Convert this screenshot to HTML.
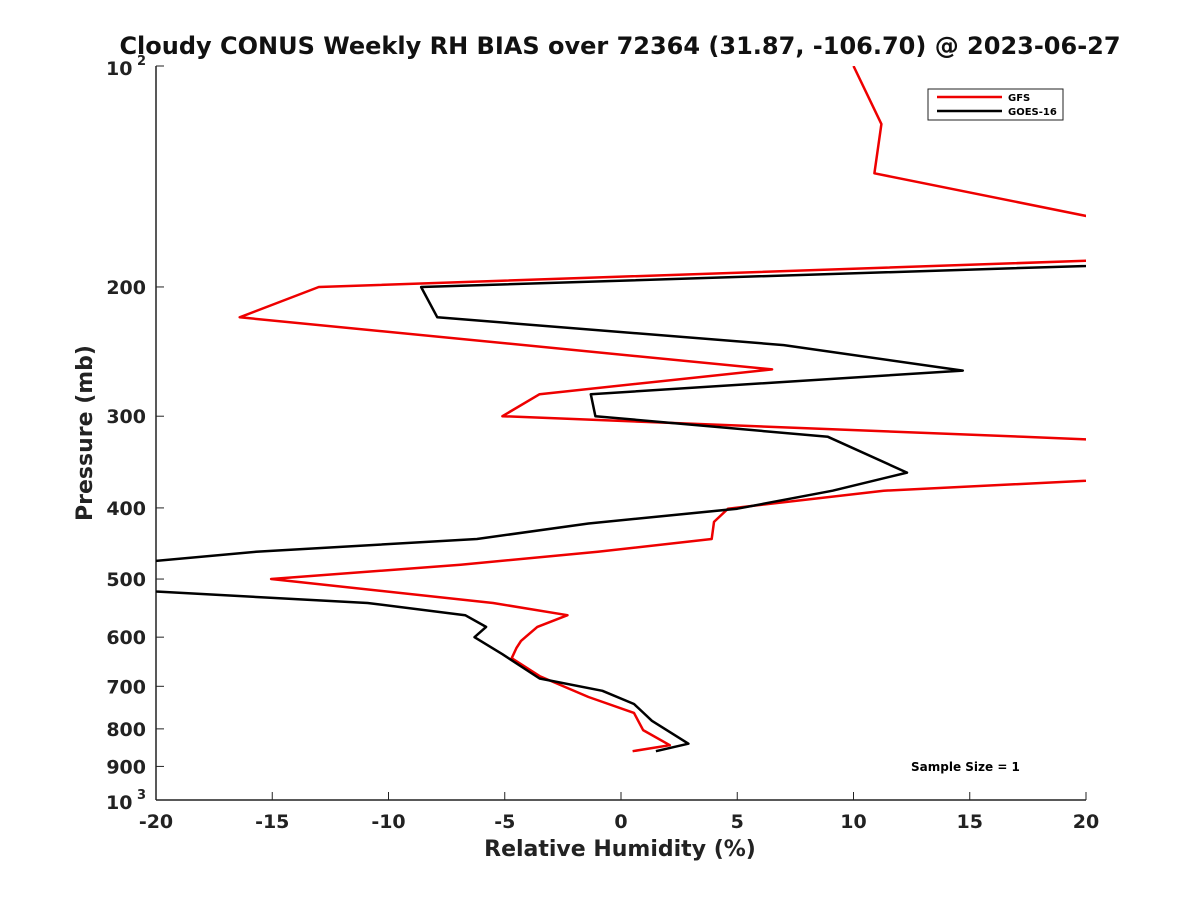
<!DOCTYPE html>
<html><head><meta charset="utf-8"><style>
body{margin:0;background:#fff;}
svg{font-family:"DejaVu Sans","Liberation Sans",sans-serif;}
</style></head><body>
<svg id="chart" width="1200" height="900" xmlns="http://www.w3.org/2000/svg">
<defs><clipPath id="clip"><rect x="156" y="66" width="930" height="734"/></clipPath></defs>
<text x="620" y="54" text-anchor="middle" font-size="24" font-weight="bold" fill="#111">Cloudy CONUS Weekly RH BIAS over 72364 (31.87, -106.70) @ 2023-06-27</text>
<g id="axes"></g>
<g id="series" clip-path="url(#clip)"></g>
<text x="620" y="856" text-anchor="middle" font-size="22" font-weight="bold" fill="#222">Relative Humidity (%)</text>
<text transform="translate(92,433) rotate(-90)" text-anchor="middle" font-size="22" font-weight="bold" fill="#222">Pressure (mb)</text>
<g>
<rect x="928" y="89" width="135" height="31" fill="#fff" stroke="#222" stroke-width="1"/>
<line x1="937" y1="97" x2="1002" y2="97" stroke="#e00" stroke-width="2.5"/>
<text x="1008" y="101" font-size="10" font-weight="bold">GFS</text>
<line x1="937" y1="111" x2="1002" y2="111" stroke="#000" stroke-width="2.5"/>
<text x="1008" y="115" font-size="10" font-weight="bold">GOES-16</text>
</g>
<text x="911" y="771" font-size="12" font-weight="bold">Sample Size = 1</text>
</svg>
<script>
const xTicks=[-20,-15,-10,-5,0,5,10,15,20];
const yTicks=[100,200,300,400,500,600,700,800,900,1000];
const yTickLabels=["","200","300","400","500","600","700","800","900",""];
const gfsRH=[10,11.2,10.9,28,20.5,-13.0,-16.4,6.5,-3.5,-5.1,17.3,40,11.3,4.6,4.0,3.9,-1.0,-6.9,-15.05,-5.5,-2.3,-3.6,-4.3,-4.5,-4.7,-3.5,-1.4,0.56,0.95,2.1,0.5];
const gfsP=[100,120,140,180,184,200,220,259,280,300,320,342,379,401,418,441,459,478,500,539,560,581,607,621,641,678,724,761,803,842,858];
const goesRH=[30,-8.6,-7.9,7.0,14.7,-1.3,-1.1,8.9,12.3,9.1,5.0,-1.4,-6.2,-15.7,-27.7,-20,-10.9,-6.7,-5.8,-6.3,-5.1,-3.5,-0.8,0.56,0.95,1.33,2.9,1.5];
const goesP=[183,200,220,240,260,280,300,320,358,379,401,420,441,459,497,520,539,560,581,600,633,683,710,740,760,780,838,858];
const X0=156,X1=1086,Y0=66,Y1=800;
const xs=v=>X0+(v+20)/40*(X1-X0);
const ys=p=>Y0+(Math.log10(p)-2)*(Y1-Y0);
const NS="http://www.w3.org/2000/svg";
function mk(t,a,parent){const e=document.createElementNS(NS,t);for(const k in a)e.setAttribute(k,a[k]);parent.appendChild(e);return e;}
const axes=document.getElementById('axes');
const ax=mk('line',{x1:X0,y1:Y1,x2:X1,y2:Y1,stroke:'#222','stroke-width':1.5},axes);


const ay=mk('line',{x1:X0,y1:Y0,x2:X0,y2:Y1,stroke:'#222','stroke-width':1.5},axes);


xTicks.forEach(v=>{
 mk('line',{x1:xs(v),y1:Y1,x2:xs(v),y2:Y1-8,stroke:'#222','stroke-width':1},axes);
 const t=mk('text',{x:xs(v),y:Y1+28,'text-anchor':'middle','font-size':19,'font-weight':'bold',fill:'#222'},axes);
 t.textContent=String(v);
 
 
});
yTicks.forEach((p,i)=>{
 mk('line',{x1:X0,y1:ys(p),x2:X0+8,y2:ys(p),stroke:'#222','stroke-width':1},axes);
 if(yTickLabels[i]){
  const t=mk('text',{x:X0-10,y:ys(p)+7,'text-anchor':'end','font-size':19,'font-weight':'bold',fill:'#222'},axes);
  t.textContent=yTickLabels[i];
  
  
 }
});
[[Y0,'2'],[Y1,'3']].forEach(([y,e])=>{
 const t=mk('text',{x:X0-50,y:y+9,'font-size':19,'font-weight':'bold',fill:'#222'},axes);
 t.textContent='10';
 
 
 const s=mk('text',{x:X0-19,y:y-1,'font-size':13,'font-weight':'bold',fill:'#222'},axes);
 s.textContent=e;
 
 
});
const series=document.getElementById('series');
function line(vals,ps,color,name){
 const d=vals.map((v,i)=>(i?'L':'M')+xs(v).toFixed(1)+','+ys(ps[i]).toFixed(1)).join('');
 const p=mk('path',{d:d,fill:'none',stroke:color,'stroke-width':2.5,'stroke-linejoin':'round'},series);
 
 
}
line(gfsRH,gfsP,'#e00','gfs-line');
line(goesRH,goesP,'#000','goes16-line');
</script>
</body></html>
